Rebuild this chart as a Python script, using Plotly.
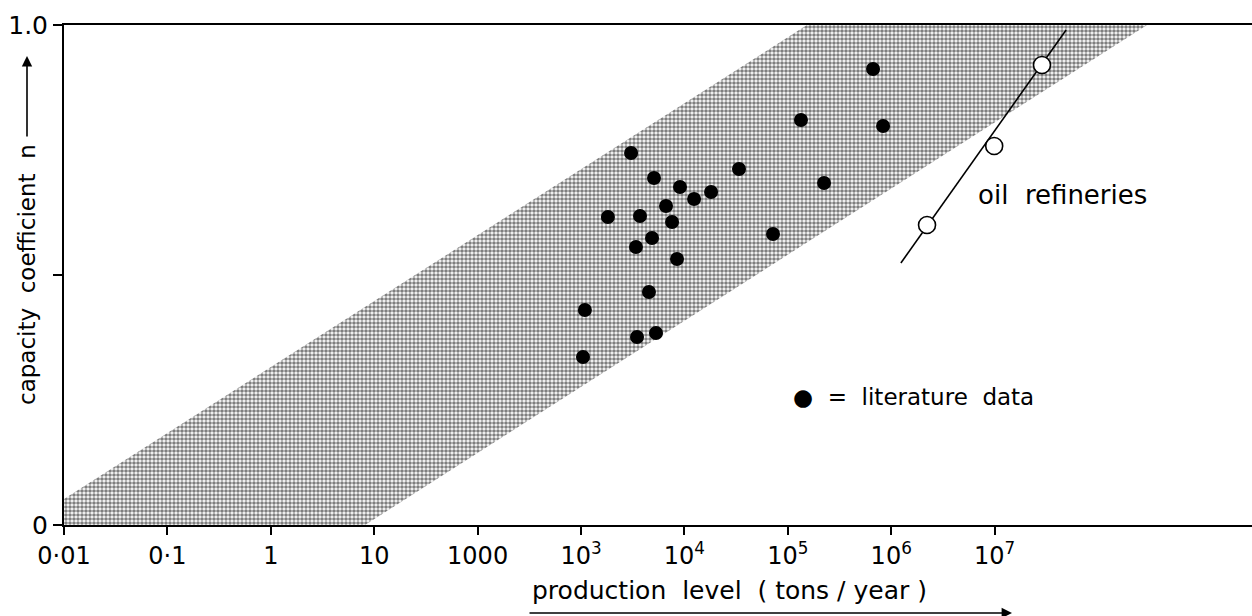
import plotly.graph_objects as go

# ---- data ----
lit_x = [3050, 33700, 5080, 9060, 18100, 12400, 6640, 1820, 3720, 7590, 4860, 3400,
         8480, 4540, 1090, 3480, 5310, 1045, 667000, 134000, 834000, 224000, 71900]
lit_y = [0.744, 0.712, 0.694, 0.676, 0.666, 0.652, 0.638, 0.616, 0.618, 0.606, 0.574, 0.556,
         0.532, 0.466, 0.430, 0.376, 0.384, 0.336, 0.912, 0.810, 0.798, 0.684, 0.582]

oil_x = [2.22e6, 9.9e6, 2.87e7]
oil_y = [0.600, 0.758, 0.920]
oil_line_x = [1.24e6, 4.91e7]
oil_line_y = [0.524, 0.990]

band_x = [0.01, 0.01, 1.53e5, 2.98e8, 8.15]
band_y = [0.0, 0.052, 1.0, 1.0, 0.0]

x_tickvals = [0.01, 0.1, 1, 10, 100, 1e3, 1e4, 1e5, 1e6, 1e7]
x_ticktext = ["0·01", "0·1", "1", "10", "1000", "10<sup>3</sup>", "10<sup>4</sup>",
              "10<sup>5</sup>", "10<sup>6</sup>", "10<sup>7</sup>"]
y_tickvals = [0, 0.5, 1.0]
y_ticktext = ["0", "", "1.0"]

FONT = "DejaVu Sans"

fig = go.Figure()

fig.add_trace(go.Scatter(
    x=band_x, y=band_y, mode="lines", fill="toself",
    line=dict(width=0, color="rgba(0,0,0,0)"),
    fillcolor="white",
    fillpattern=dict(shape=".", size=4, solidity=0.65, fgcolor="black", bgcolor="white"),
    hoverinfo="skip", showlegend=False))

fig.add_trace(go.Scatter(
    x=lit_x, y=lit_y, mode="markers",
    marker=dict(size=14, color="black", line=dict(width=0)),
    showlegend=False))

fig.add_trace(go.Scatter(
    x=oil_line_x, y=oil_line_y, mode="lines",
    line=dict(color="black", width=1.6), showlegend=False))

fig.add_trace(go.Scatter(
    x=oil_x, y=oil_y, mode="markers",
    marker=dict(size=17, color="white", line=dict(width=1.6, color="black")),
    showlegend=False))

fig.update_xaxes(
    type="log", range=[-2, 9.489],
    tickvals=x_tickvals, ticktext=x_ticktext,
    ticks="outside", ticklen=8, tickwidth=2, tickcolor="black",
    showline=True, linecolor="black", linewidth=2, mirror=True,
    showgrid=False, zeroline=False,
    tickfont=dict(family=FONT, size=24, color="black"))

fig.update_yaxes(
    range=[0, 1.0],
    tickvals=y_tickvals, ticktext=y_ticktext,
    ticks="outside", ticklen=9, tickwidth=2, tickcolor="black",
    showline=True, linecolor="black", linewidth=2, mirror=False,
    showgrid=False, zeroline=False,
    tickfont=dict(family=FONT, size=25, color="black"))

W, H = 1252, 616
L, R, T, B = 64, 0, 25, 91
pw, ph = W - L - R, H - T - B


def px(xp):
    return (xp - L) / pw


def py(yp):
    return (T + ph - yp) / ph


annotations = [
    dict(text="production  level  ( tons / year )", x=px(730), y=py(590),
         xref="paper", yref="paper", showarrow=False,
         font=dict(family=FONT, size=25, color="black"), xanchor="center", yanchor="middle"),
    dict(text="", x=px(1012), y=py(613), xref="paper", yref="paper",
         ax=-484, ay=0, axref="pixel", ayref="pixel", showarrow=True,
         arrowhead=2, arrowsize=1.3, arrowwidth=1.6, arrowcolor="black"),
    dict(text="capacity  coefficient  n", x=px(27), y=py(275),
         xref="paper", yref="paper", showarrow=False, textangle=-90,
         font=dict(family=FONT, size=23, color="black"), xanchor="center", yanchor="middle"),
    dict(text="", x=px(27), y=py(56), xref="paper", yref="paper",
         ax=0, ay=82, axref="pixel", ayref="pixel", showarrow=True,
         arrowhead=2, arrowsize=1.3, arrowwidth=1.6, arrowcolor="black"),
    dict(text="oil  refineries", x=px(1062), y=py(195), xref="paper", yref="paper",
         showarrow=False, font=dict(family=FONT, size=26, color="black"),
         xanchor="center", yanchor="middle"),
    dict(text="●  =  literature  data", x=px(913), y=py(397), xref="paper", yref="paper",
         showarrow=False, font=dict(family=FONT, size=23, color="black"),
         xanchor="center", yanchor="middle"),
]

fig.update_layout(
    width=W, height=H,
    margin=dict(l=L, r=R, t=T, b=B),
    paper_bgcolor="white", plot_bgcolor="white",
    showlegend=False,
    annotations=annotations,
    font=dict(family=FONT, color="black"),
)

fig.write_html("out.html")
